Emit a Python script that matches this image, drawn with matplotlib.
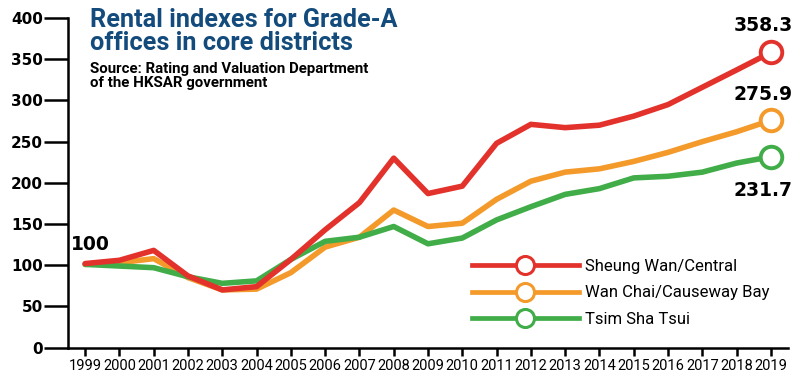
import matplotlib
matplotlib.use("Agg")
import matplotlib.pyplot as plt
from matplotlib.lines import Line2D

years = list(range(1999, 2020))
sheung_wan = [102, 106, 118, 87, 70, 74, 107, 143, 176, 230, 187, 196, 248, 271, 267, 270, 281, 295, 316, 337, 358.3]
wan_chai = [101, 103, 108, 85, 70, 71, 91, 122, 134, 167, 147, 151, 180, 202, 213, 217, 226, 237, 250, 262, 275.9]
tsim_sha_tsui = [101, 99, 97, 86, 78, 81, 107, 129, 134, 147, 126, 133, 155, 171, 186, 193, 206, 208, 213, 224, 231.7]
series_names = ["Sheung Wan/Central", "Wan Chai/Causeway Bay", "Tsim Sha Tsui"]
colors = ["#e2322b", "#f39a2b", "#41ad49"]
yticks = [0, 50, 100, 150, 200, 250, 300, 350, 400]

plt.rcParams['font.family'] = ['DejaVu Sans']
fig = plt.figure(figsize=(8, 3.77), dpi=100)
ax = fig.add_axes([0.085, 0.078, 0.9, 0.874])

lw = 4.0
data = [sheung_wan, wan_chai, tsim_sha_tsui]
zorders = [5, 3, 4]
for vals, c, z in zip(data, colors, zorders):
    ax.plot(years, vals, color=c, lw=lw, solid_capstyle='round', solid_joinstyle='round', zorder=z)
    ax.plot(years[-1], vals[-1], 'o', ms=15.5, mfc='white', mec=c, mew=2.8, zorder=z + 10, clip_on=False)

ax.set_xlim(1998.5, 2019.5)
ax.set_ylim(0, 400)
ax.set_yticks(yticks)
ax.set_xticks(years)
ax.set_xticklabels([str(y) for y in years], family='Roboto', fontsize=10.5)
ax.set_yticklabels([str(v) for v in yticks], fontsize=11, fontweight='bold', family='DejaVu Sans')
ax.tick_params(axis='y', length=17, width=1.8, pad=1)
ax.tick_params(axis='x', length=6, width=1.8, pad=2)
for s in ['top', 'right']:
    ax.spines[s].set_visible(False)
for s in ['left', 'bottom']:
    ax.spines[s].set_linewidth(1.8)

# annotations
ann = dict(fontsize=13.5, fontweight='bold', family='DejaVu Sans')
ax.text(1999.15, 125, "100", ha='center', va='center', **ann)
ax.text(2018.78, 391, f"{sheung_wan[-1]:.1f}", ha='center', va='center', clip_on=False, **ann)
ax.text(2018.78, 307, f"{wan_chai[-1]:.1f}", ha='center', va='center', **ann)
ax.text(2018.78, 191, f"{tsim_sha_tsui[-1]:.1f}", ha='center', va='center', **ann)

# title
fig.text(0.112, 0.980, "Rental indexes for Grade-A\noffices in core districts", color="#134b7c",
         fontsize=18.2, fontweight='bold', va='top', ha='left', linespacing=0.95, family='Roboto')
fig.text(0.112, 0.835, "Source: Rating and Valuation Department\nof the HKSAR government", color="black",
         fontsize=10.8, fontweight='bold', va='top', ha='left', linespacing=1.02, family='Roboto')

handles = [Line2D([0], [0], color=c, lw=3.4, marker='o', ms=13, mfc='white', mec=c, mew=2.2)
           for c in colors]
leg = ax.legend(handles, series_names, loc='upper left', bbox_to_anchor=(0.552, 0.29),
                frameon=False, handlelength=6.4, numpoints=1, labelspacing=0.7,
                handletextpad=0.4, borderaxespad=0, prop={'family': 'Roboto', 'size': 12})

fig.savefig("out.png", dpi=100)
